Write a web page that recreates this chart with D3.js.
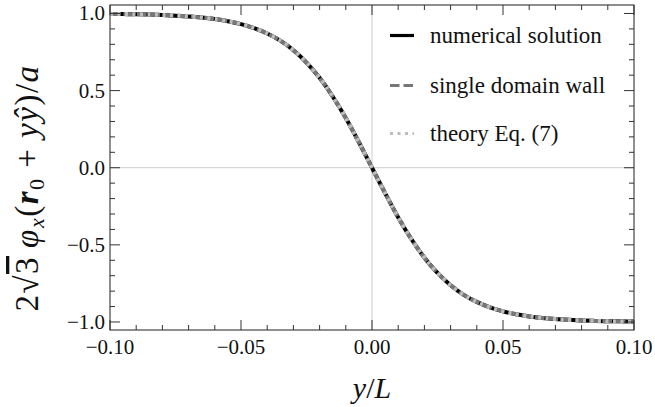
<!DOCTYPE html>
<html lang="en">
<head>
<meta charset="utf-8">
<title>Domain wall profile</title>
<script src="https://d3js.org/d3.v7.min.js"></script>
<style>
  body { margin: 0; background: #fff; }
  svg { display: block; }
</style>
</head>
<body>
<script>
// positions y/L where the curves were read
var yPos = [-0.100, -0.095, -0.090, -0.085, -0.080, -0.075, -0.070, -0.065, -0.060, -0.055,
            -0.050, -0.045, -0.040, -0.035, -0.030, -0.025, -0.020, -0.015, -0.010, -0.005,
             0.000,  0.005,  0.010,  0.015,  0.020,  0.025,  0.030,  0.035,  0.040,  0.045,
             0.050,  0.055,  0.060,  0.065,  0.070,  0.075,  0.080,  0.085,  0.090,  0.095, 0.100];

var numerical = [0.997, 0.996, 0.995, 0.993, 0.990, 0.986, 0.981, 0.974, 0.964, 0.950,
                 0.931, 0.905, 0.870, 0.824, 0.762, 0.682, 0.583, 0.462, 0.322, 0.165,
                 0.000, -0.165, -0.322, -0.462, -0.583, -0.682, -0.762, -0.824, -0.870, -0.905,
                 -0.931, -0.950, -0.964, -0.974, -0.981, -0.986, -0.990, -0.993, -0.995, -0.996, -0.997];

var singleWall = [0.997, 0.996, 0.995, 0.993, 0.990, 0.986, 0.981, 0.974, 0.964, 0.950,
                  0.931, 0.905, 0.870, 0.824, 0.762, 0.682, 0.583, 0.462, 0.322, 0.165,
                  0.000, -0.165, -0.322, -0.462, -0.583, -0.682, -0.762, -0.824, -0.870, -0.905,
                  -0.931, -0.950, -0.964, -0.974, -0.981, -0.986, -0.990, -0.993, -0.995, -0.996, -0.997];

var theory = [0.998, 0.997, 0.995, 0.993, 0.990, 0.987, 0.981, 0.974, 0.964, 0.950,
              0.931, 0.905, 0.870, 0.824, 0.762, 0.682, 0.583, 0.462, 0.322, 0.165,
              0.000, -0.165, -0.322, -0.462, -0.583, -0.682, -0.762, -0.824, -0.870, -0.905,
              -0.931, -0.950, -0.964, -0.974, -0.981, -0.987, -0.990, -0.993, -0.995, -0.997, -0.998];

var xTicks = [-0.10, -0.05, 0.00, 0.05, 0.10];
var xTickLabels = ["\u22120.10", "\u22120.05", "0.00", "0.05", "0.10"];
var yTicks = [-1.0, -0.5, 0.0, 0.5, 1.0];
var yTickLabels = ["\u22121.0", "\u22120.5", "0.0", "0.5", "1.0"];
var legendNames = ["numerical solution", "single domain wall", "theory Eq. (7)"];

var W = 655, H = 407;
// plot area (note: "top" is a reserved window property, so use pTop etc.)
var pLeft = 110, pRight = 634, pTop = 5, pBottom = 330;
var serif = "'Liberation Serif', 'DejaVu Serif', serif";

var svg = d3.select("body").append("svg")
    .attr("width", W).attr("height", H)
    .attr("font-family", serif)
    .style("font-family", serif);

var x = d3.scaleLinear().domain([-0.1, 0.1]).range([pLeft, pRight]);
var y = d3.scaleLinear().domain([-1.052, 1.055]).range([pBottom, pTop]);

// zero lines
svg.append("line")
    .attr("x1", x(0)).attr("x2", x(0)).attr("y1", pTop).attr("y2", pBottom)
    .attr("stroke", "#cccccc").attr("stroke-width", 1);
svg.append("line")
    .attr("x1", pLeft).attr("x2", pRight).attr("y1", y(0)).attr("y2", y(0))
    .attr("stroke", "#cccccc").attr("stroke-width", 1);

// curves
var line = d3.line()
    .x(function (d) { return x(d[0]); })
    .y(function (d) { return y(d[1]); })
    .curve(d3.curveMonotoneX);

var series = [
    { vals: numerical, color: "#000000", dash: null },
    { vals: singleWall, color: "#777777", dash: "9.5,4" },
    { vals: theory, color: "#bdbdbd", dash: "3,4.5" }
];

series.forEach(function (s) {
    svg.append("path")
        .datum(yPos.map(function (v, i) { return [v, s.vals[i]]; }))
        .attr("d", line)
        .attr("fill", "none")
        .attr("stroke", s.color)
        .attr("stroke-width", 4)
        .attr("stroke-dasharray", s.dash);
});

// frame
svg.append("rect")
    .attr("x", pLeft).attr("y", pTop)
    .attr("width", pRight - pLeft).attr("height", pBottom - pTop)
    .attr("fill", "none").attr("stroke", "#444").attr("stroke-width", 1.2);

// ticks, pointing inward on all four sides
var xMinor = d3.range(-0.1, 0.1001, 0.01);
var yMinor = d3.range(-1.0, 1.0001, 0.1);
var ticks = svg.append("g").attr("stroke", "#333").attr("stroke-width", 1);

xMinor.forEach(function (v) {
    var major = xTicks.some(function (t) { return Math.abs(t - v) < 1e-6; });
    var len = major ? 10 : 5;
    ticks.append("line").attr("x1", x(v)).attr("x2", x(v)).attr("y1", pBottom).attr("y2", pBottom - len);
    ticks.append("line").attr("x1", x(v)).attr("x2", x(v)).attr("y1", pTop).attr("y2", pTop + len);
});
yMinor.forEach(function (v) {
    var major = yTicks.some(function (t) { return Math.abs(t - v) < 1e-6; });
    var len = major ? 10 : 5;
    ticks.append("line").attr("x1", pLeft).attr("x2", pLeft + len).attr("y1", y(v)).attr("y2", y(v));
    ticks.append("line").attr("x1", pRight).attr("x2", pRight - len).attr("y1", y(v)).attr("y2", y(v));
});

// tick labels
svg.selectAll(".xlab").data(xTicks).enter().append("text")
    .attr("x", function (d) { return x(d); })
    .attr("y", 354)
    .attr("text-anchor", "middle")
    .attr("font-size", 21)
    .attr("fill", "#111")
    .style("font-family", serif)
    .text(function (d, i) { return xTickLabels[i]; });

svg.selectAll(".ylab").data(yTicks).enter().append("text")
    .attr("x", 105)
    .attr("y", function (d) { return y(d) + 7; })
    .attr("text-anchor", "end")
    .attr("font-size", 21)
    .attr("fill", "#111")
    .style("font-family", serif)
    .text(function (d, i) { return yTickLabels[i]; });

// axis labels
var xl = svg.append("text")
    .attr("x", 372).attr("y", 398)
    .attr("text-anchor", "middle")
    .attr("font-size", 30)
    .attr("fill", "#111")
    .style("font-family", serif);
xl.append("tspan").attr("font-style", "italic").text("y");
xl.append("tspan").text("/");
xl.append("tspan").attr("font-style", "italic").text("L");

var yl = svg.append("text")
    .attr("transform", "translate(38,188) rotate(-90)")
    .attr("text-anchor", "middle")
    .attr("font-size", 33)
    .attr("fill", "#111")
    .attr("letter-spacing", 1.5)
    .style("font-family", serif);
yl.append("tspan").text("2\u221A");
yl.append("tspan").attr("text-decoration", "overline").text("3");
yl.append("tspan").text("\u2009");
yl.append("tspan").attr("font-style", "italic").text("\u03C6");
yl.append("tspan").attr("font-style", "italic").attr("font-size", 22).attr("dy", 6).text("x");
yl.append("tspan").attr("dy", -6).text("(");
yl.append("tspan").attr("font-style", "italic").attr("font-weight", "bold").text("r");
yl.append("tspan").attr("font-size", 22).attr("dy", 6).text("0");
yl.append("tspan").attr("dy", -6).text(" + ");
yl.append("tspan").attr("font-style", "italic").text("y");
yl.append("tspan").attr("font-style", "italic").text("\u0177");
yl.append("tspan").text(")/");
yl.append("tspan").attr("font-style", "italic").text("a");

// legend
var legY = [35.5, 85.5, 133.5];
var leg = svg.append("g");
series.forEach(function (s, i) {
    leg.append("line")
        .attr("x1", 390).attr("x2", 414)
        .attr("y1", legY[i]).attr("y2", legY[i])
        .attr("stroke", s.color).attr("stroke-width", 3.2)
        .attr("stroke-dasharray", s.dash);
    leg.append("text")
        .attr("x", 430).attr("y", legY[i] + 7)
        .attr("font-size", 23)
        .attr("fill", "#111")
        .style("font-family", serif)
        .text(legendNames[i]);
});
</script>
</body>
</html>
